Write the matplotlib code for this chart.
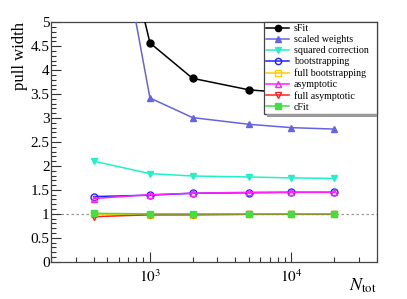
import matplotlib
matplotlib.use("Agg")
import matplotlib.pyplot as plt
from matplotlib.patches import Rectangle
from matplotlib.ticker import FixedLocator, MultipleLocator, NullFormatter, LogLocator

plt.rcParams['font.family'] = ['Liberation Serif', 'DejaVu Serif']
plt.rcParams['mathtext.fontset'] = 'stix'

n_tot = [400, 1000, 2000, 5000, 10000, 20000]
series_names = ["sFit", "scaled weights", "squared correction", "bootstrapping",
                "full bootstrapping", "asymptotic", "full asymptotic", "cFit"]
sfit = [9.5, 4.57, 3.83, 3.59, 3.52, 3.47]
scaled_weights = [9.8, 3.42, 3.01, 2.87, 2.80, 2.77]
squared_correction = [2.10, 1.84, 1.79, 1.77, 1.75, 1.74]
bootstrapping = [1.36, 1.39, 1.43, 1.44, 1.45, 1.45]
full_bootstrapping = [1.00, 0.97, 0.98, 0.99, 0.99, 0.99]
asymptotic = [1.32, 1.40, 1.43, 1.45, 1.45, 1.45]
full_asymptotic = [0.94, 0.98, 0.98, 0.99, 0.99, 0.99]
cfit = [1.01, 1.00, 1.00, 1.00, 1.00, 1.00]

styles = [
    (sfit, "#000000", "o", True),
    (scaled_weights, "#6464e0", "^", True),
    (squared_correction, "#22f0c8", "v", True),
    (bootstrapping, "#2020ff", "o", False),
    (full_bootstrapping, "#ffcc00", "s", False),
    (asymptotic, "#ff22ff", "^", False),
    (full_asymptotic, "#ff2020", "v", False),
    (cfit, "#44dd44", "s", True),
]

fig = plt.figure(figsize=(4.07, 2.99), dpi=100)
ax = fig.add_axes([0.1253, 0.1247, 0.8003, 0.8007])

ax.axhline(1.0, color="#999999", lw=0.9, ls=(0, (2, 2)), zorder=1)

for (vals, col, mk, filled), name in zip(styles, series_names):
    ax.plot(n_tot, vals, color=col, lw=1.1, marker=mk, ms=5,
            markerfacecolor=col if filled else "none", markeredgecolor=col,
            markeredgewidth=1.0, label=name, zorder=3, clip_on=True)

ax.set_xscale("log")
ax.set_xlim(200, 40000)
ax.set_ylim(0, 5)

ax.yaxis.set_minor_locator(MultipleLocator(0.1))
ax.set_yticks([0, 0.5, 1, 1.5, 2, 2.5, 3, 3.5, 4, 4.5, 5])
ax.set_yticklabels(["0", "0.5", "1", "1.5", "2", "2.5", "3", "3.5", "4", "4.5", "5"])
ax.xaxis.set_major_locator(FixedLocator([1000, 10000]))
ax.set_xticklabels([r"$10^3$", r"$10^4$"])
ax.xaxis.set_minor_locator(LogLocator(base=10, subs=range(2, 10), numticks=20))
ax.xaxis.set_minor_formatter(NullFormatter())

ax.tick_params(axis="both", which="both", direction="in", top=False, right=False,
               labelsize=11, color="#333333", pad=1)
ax.tick_params(axis="y", which="major", length=7, width=0.8)
ax.tick_params(axis="y", which="minor", length=3.5, width=0.8)
ax.tick_params(axis="x", which="major", length=7, width=0.8, pad=5)
ax.tick_params(axis="x", which="minor", length=3.5, width=0.8)
for s in ax.spines.values():
    s.set_color("#444444")
    s.set_linewidth(0.9)

ax.set_ylabel("pull width", fontsize=12, loc="top", labelpad=2)
ax.text(1.0, -0.10, r"$N_{\rm tot}$", fontsize=13, ha="right", va="center",
        transform=ax.transAxes)

leg = ax.legend(loc="upper left", bbox_to_anchor=(0.655, 0.627, 0.345, 0.373),
                mode="expand", fontsize=7.2, frameon=True, fancybox=False,
                edgecolor="#444444", framealpha=1, borderpad=0.2,
                labelspacing=0.2, handlelength=2.3, handletextpad=0.45,
                borderaxespad=0, markerscale=0.9)
leg.get_frame().set_linewidth(0.9)
leg.set_zorder(5)

fig.canvas.draw()
bb = leg.get_window_extent().transformed(ax.transAxes.inverted())
ax.add_patch(Rectangle((bb.x0 + 0.008, bb.y0 - 0.012), 1.0 - bb.x0 - 0.008, 0.012,
                       transform=ax.transAxes, facecolor="#9a9a9a", edgecolor="none",
                       zorder=6, clip_on=False))

fig.savefig("out.png", dpi=100)
